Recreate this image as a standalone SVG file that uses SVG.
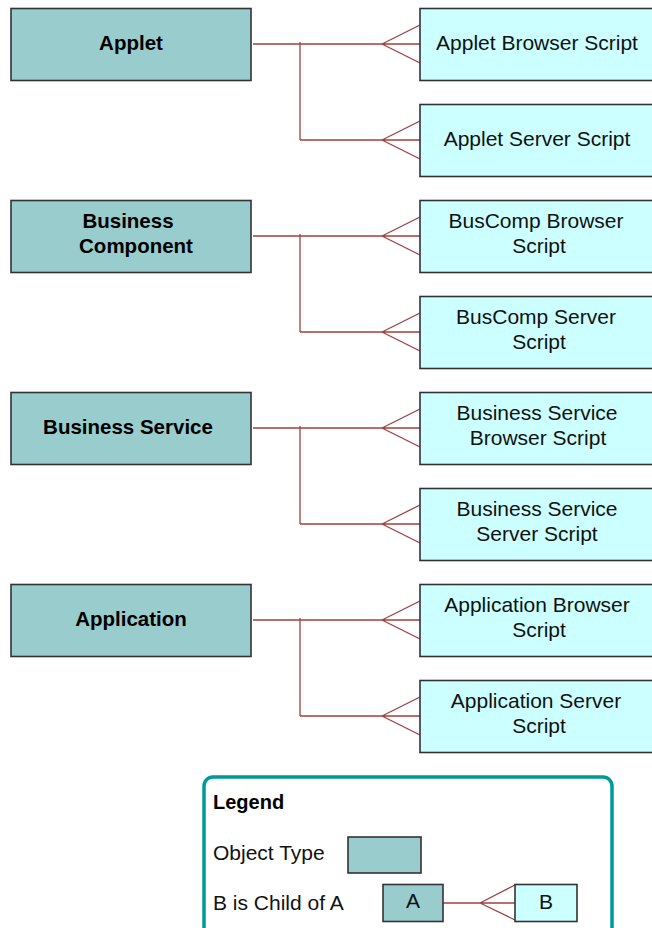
<svg xmlns="http://www.w3.org/2000/svg" width="652" height="928" viewBox="0 0 652 928">
<style>
.p{fill:#99CCCC;stroke:#333;stroke-width:1.6}
.c{fill:#CCFFFF;stroke:#333;stroke-width:1.6}
.pt{font-family:"Liberation Sans",Arial,sans-serif;font-weight:bold;font-size:20.5px;fill:#000;text-anchor:middle}
.ct{font-family:"Liberation Sans",Arial,sans-serif;font-size:21px;fill:#111;text-anchor:middle}
.lt{font-family:"Liberation Sans",Arial,sans-serif;font-size:21px;fill:#111}
.ln{fill:none;stroke:#A04040;stroke-width:1.3}
</style>
<rect width="652" height="928" fill="#fff"/>
<defs>
<path id="cf" d="M382,0 L420,-19 M382,0 L420,19 M253,0 L420,0"/>
<path id="cf2" d="M382,0 L420,-19 M382,0 L420,19 M300,0 L420,0"/>
</defs>
<g id="connectors" class="ln">
<use href="#cf" y="44"/><use href="#cf2" y="140"/><path d="M300,42 V140"/>
<use href="#cf" y="236"/><use href="#cf2" y="332"/><path d="M300,234 V332"/>
<use href="#cf" y="428"/><use href="#cf2" y="524"/><path d="M300,426 V524"/>
<use href="#cf" y="620"/><use href="#cf2" y="716"/><path d="M300,618 V716"/>
</g>
<g id="applet"><rect class="p" x="11" y="8.5" width="240" height="72"/><text class="pt" x="131" y="50">Applet</text></g>
<g id="applet-browser-script"><rect class="c" x="420" y="8.5" width="236" height="72"/><text class="ct" x="537" y="50">Applet Browser Script</text></g>
<g id="applet-server-script"><rect class="c" x="420" y="104.5" width="236" height="72"/><text class="ct" x="537" y="146">Applet Server Script</text></g>

<g id="business-component"><rect class="p" x="11" y="200.5" width="240" height="72"/><text class="pt" x="128" y="228">Business</text><text class="pt" x="136" y="253">Component</text></g>
<g id="buscomp-browser-script"><rect class="c" x="420" y="200.5" width="236" height="72"/><text class="ct" x="536" y="228">BusComp Browser</text><text class="ct" x="539" y="253">Script</text></g>
<g id="buscomp-server-script"><rect class="c" x="420" y="296.5" width="236" height="72"/><text class="ct" x="536" y="324">BusComp Server</text><text class="ct" x="539" y="349">Script</text></g>

<g id="business-service"><rect class="p" x="11" y="392.5" width="240" height="72"/><text class="pt" x="128" y="434">Business Service</text></g>
<g id="business-service-browser-script"><rect class="c" x="420" y="392.5" width="236" height="72"/><text class="ct" x="537" y="420">Business Service</text><text class="ct" x="538" y="445">Browser Script</text></g>
<g id="business-service-server-script"><rect class="c" x="420" y="488.5" width="236" height="72"/><text class="ct" x="537" y="516">Business Service</text><text class="ct" x="537" y="541">Server Script</text></g>

<g id="application"><rect class="p" x="11" y="584.5" width="240" height="72"/><text class="pt" x="131" y="626">Application</text></g>
<g id="application-browser-script"><rect class="c" x="420" y="584.5" width="236" height="72"/><text class="ct" x="537" y="612">Application Browser</text><text class="ct" x="539" y="637">Script</text></g>
<g id="application-server-script"><rect class="c" x="420" y="680.5" width="236" height="72"/><text class="ct" x="536" y="708">Application Server</text><text class="ct" x="539" y="733">Script</text></g>

<g id="legend">
<rect x="204" y="777" width="408" height="170" rx="9" fill="#fff" stroke="#009999" stroke-width="3.5"/>
<text x="213" y="809" font-family="'Liberation Sans',Arial,sans-serif" font-weight="bold" font-size="20px" fill="#000">Legend</text>
<text class="lt" x="213" y="860">Object Type</text>
<rect class="p" x="348" y="837" width="73" height="36"/>
<text class="lt" x="213" y="910">B is Child of A</text>
<path class="ln" d="M443,903 H515 M480,903 L515,885 M480,903 L515,920"/>
<rect class="p" x="383" y="884.5" width="60" height="37"/>
<text class="ct" x="413" y="908">A</text>
<rect class="c" x="515" y="884.5" width="62" height="37"/>
<text class="ct" x="546" y="909">B</text>
</g>
</svg>
